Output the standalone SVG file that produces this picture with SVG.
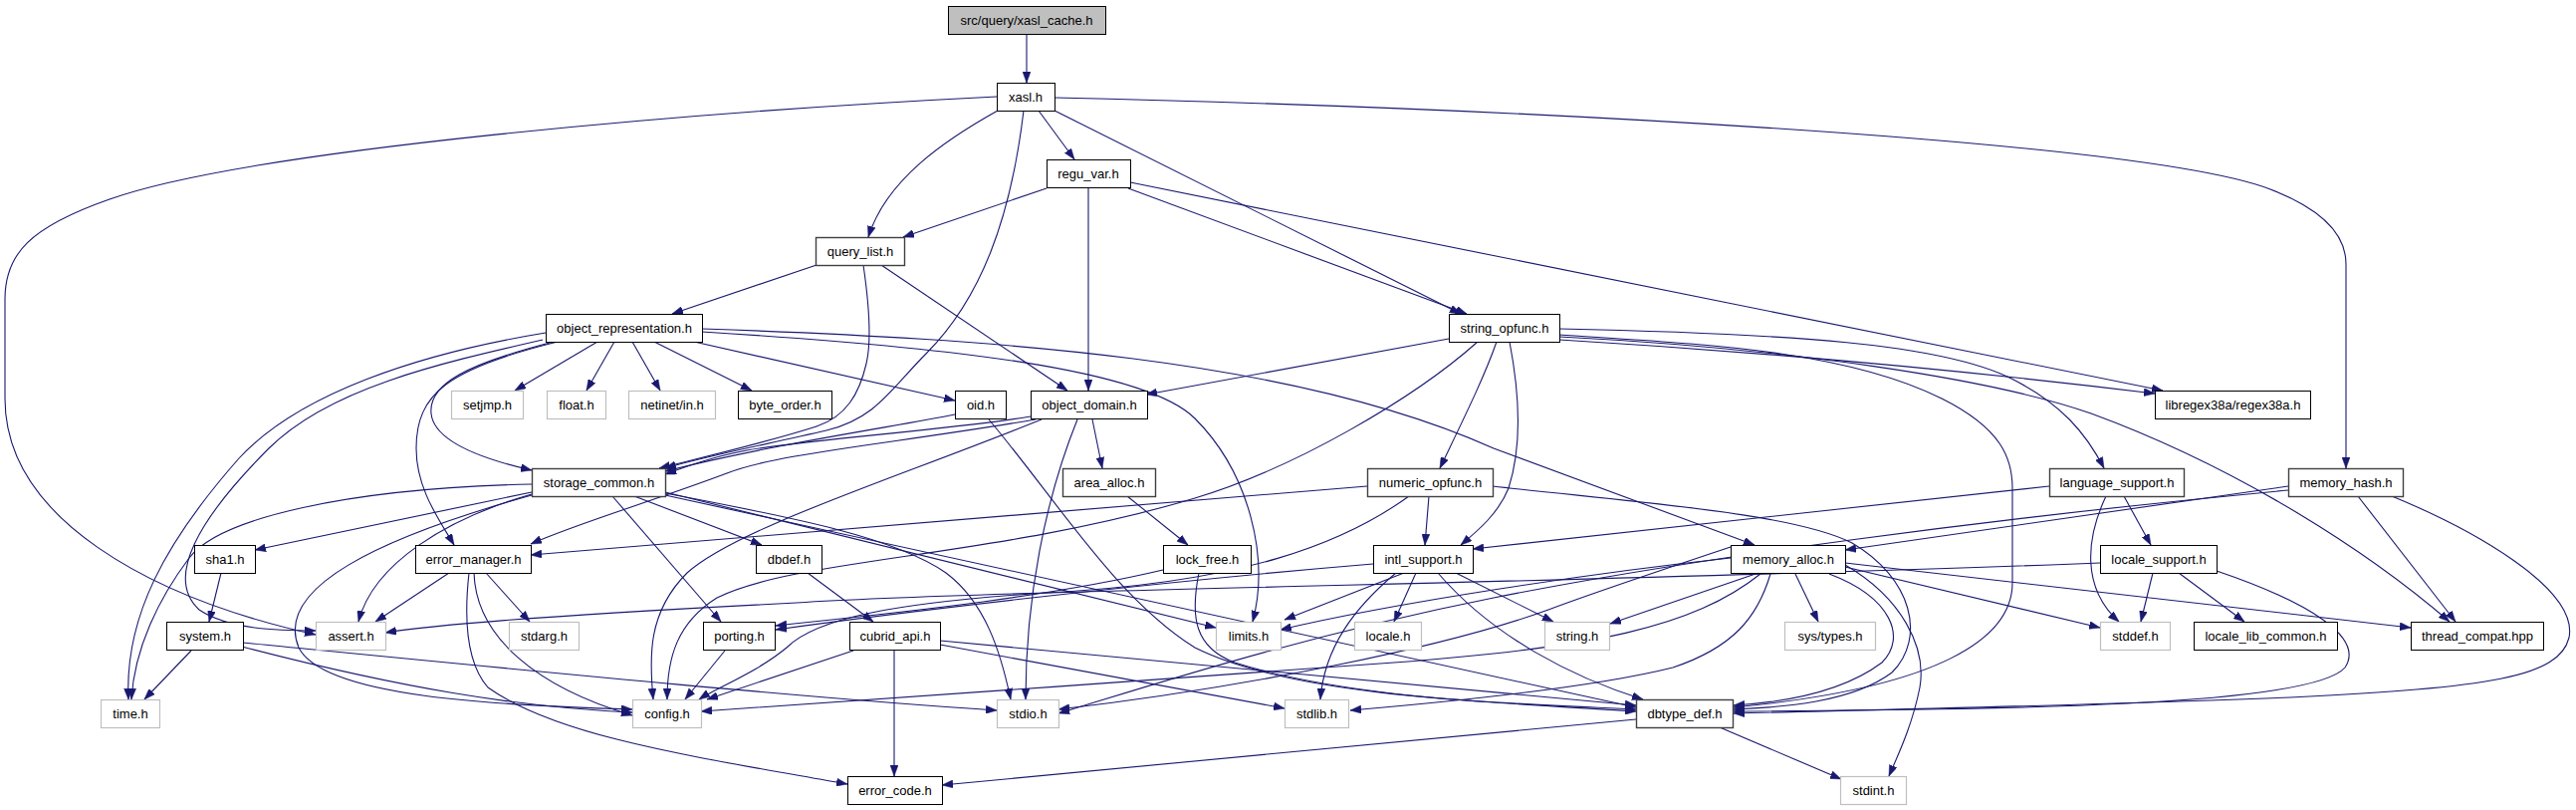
<svg xmlns="http://www.w3.org/2000/svg" width="2587" height="813" viewBox="0 0 2587 813">
<style>
.n rect{fill:#fff;stroke:#000;stroke-width:1}
.g rect{fill:#fff;stroke:#bfbfbf;stroke-width:1.2}
.d rect{fill:#fff;stroke:#404040;stroke-width:1.4}
text{font-family:"Liberation Sans",Arial,Helvetica,sans-serif;font-size:13px;text-anchor:middle;fill:#000}
#edges path{fill:none;stroke:#191970;stroke-width:1.1;marker-end:url(#a)}
</style>
<defs>
<marker id="a" markerWidth="11" markerHeight="8" refX="11" refY="4" orient="auto" markerUnits="userSpaceOnUse"><path d="M0,0 L11,4 L0,8 z" fill="#191970" stroke="#191970" stroke-width="0.5"/></marker>
</defs>
<rect width="2587" height="813" fill="#fff"/>
<g id="edges">
<path d="M1031,34 L1031,83"/>
<path d="M1001,97 C700,112 250,150 110,200 C30,228 5,255 5,300 L5,400 C5,520 150,600 317,637"/>
<path d="M1002,111 C950,140 890,180 872,238"/>
<path d="M1028,111 C1015,220 985,300 930,355 C895,390 880,420 830,432 C760,448 700,460 668,470"/>
<path d="M1043,111 L1079,160"/>
<path d="M1059,111 L1467,315"/>
<path d="M1059,98 C1500,108 2150,140 2280,190 C2340,213 2356,240 2356,265 L2356,470"/>
<path d="M1051,189 L907,238"/>
<path d="M1093,189 L1093,392"/>
<path d="M1133,189 L1473,315"/>
<path d="M1135,183 L2172,392"/>
<path d="M820,266 L675,315"/>
<path d="M867,266 C872,300 876,340 870,365 C863,395 850,418 820,428 C770,444 710,458 662,470"/>
<path d="M885,266 L1072,392"/>
<path d="M600,343 L517,392"/>
<path d="M617,343 L589,392"/>
<path d="M635,343 L663,392"/>
<path d="M657,343 L755,392"/>
<path d="M697,343 L959,402"/>
<path d="M556,343 C470,365 430,385 433,415 C436,445 490,462 534,472"/>
<path d="M560,343 C450,370 418,395 418,450 C418,490 440,520 456,547"/>
<path d="M548,334 C420,355 300,395 240,460 C165,545 125,620 129,702"/>
<path d="M545,341 C440,365 330,390 270,450 C200,520 165,580 200,612 C230,632 280,633 317,633"/>
<path d="M705,333 C950,348 1150,370 1200,420 C1255,475 1275,560 1258,624"/>
<path d="M705,330 C1000,340 1300,360 1500,450 L1762,547"/>
<path d="M959,416 C900,428 780,445 668,473"/>
<path d="M993,421 C1060,500 1120,600 1200,650 C1300,700 1500,705 1643,712"/>
<path d="M1035,418 C950,432 820,440 750,452 C710,460 690,468 668,476"/>
<path d="M1040,421 C900,445 780,455 730,475 C650,505 580,525 533,546"/>
<path d="M1046,421 C900,480 740,530 690,575 C650,615 652,660 656,702"/>
<path d="M1082,421 C1050,500 1030,600 1030,702"/>
<path d="M1097,421 L1107,470"/>
<path d="M1455,340 L1151,396"/>
<path d="M1484,343 C1420,400 1300,470 1200,500 C1000,560 800,560 720,600 C680,625 670,660 670,702"/>
<path d="M1503,343 C1490,380 1470,420 1446,470"/>
<path d="M1516,343 C1527,400 1528,450 1515,490 C1505,515 1485,532 1467,547"/>
<path d="M1566,336 C1700,345 1850,350 1950,400 C2010,430 2021,460 2021,490 L2021,585 C2021,640 1950,690 1741,710"/>
<path d="M1566,341 C1800,355 2000,375 2164,395"/>
<path d="M1566,330 C1800,335 1950,345 2020,380 C2070,405 2095,435 2113,470"/>
<path d="M1566,338 C1800,350 2000,380 2100,415 C2250,470 2380,555 2460,624"/>
<path d="M534,486 C350,490 220,520 190,560 C160,600 135,650 132,702"/>
<path d="M534,494 L256,552"/>
<path d="M534,496 C450,520 375,565 360,624"/>
<path d="M534,497 C380,540 275,590 300,650 C325,700 500,708 635,712"/>
<path d="M637,498 L765,547"/>
<path d="M615,498 L724,624"/>
<path d="M668,495 C800,520 900,540 950,575 C990,605 1005,655 1015,702"/>
<path d="M668,494 L1221,630"/>
<path d="M668,497 L1643,710"/>
<path d="M451,575 L377,624"/>
<path d="M488,575 L532,624"/>
<path d="M476,575 C478,640 540,690 635,718"/>
<path d="M471,575 C466,620 468,665 490,690 C560,740 700,760 851,787"/>
<path d="M222,575 L210,624"/>
<path d="M192,653 L145,702"/>
<path d="M243,649 C400,690 520,710 635,715"/>
<path d="M243,645 C500,670 800,700 1001,713"/>
<path d="M811,575 L877,624"/>
<path d="M857,653 L710,702"/>
<path d="M898,653 L898,779"/>
<path d="M944,643 L1643,708"/>
<path d="M944,647 L1290,711"/>
<path d="M728,653 L688,702"/>
<path d="M1132,498 L1193,547"/>
<path d="M1168,572 C1050,600 900,615 779,628"/>
<path d="M1204,575 C1195,620 1200,650 1240,665 C1350,700 1500,705 1643,714"/>
<path d="M1373,488 L533,557"/>
<path d="M1435,498 L1431,547"/>
<path d="M1415,498 C1350,545 1250,585 1050,595 C900,605 820,620 790,650 C760,675 720,690 702,702"/>
<path d="M1499,488 C1650,505 1800,515 1860,545 C1920,580 1935,640 1900,675 C1860,705 1790,710 1741,712"/>
<path d="M1410,575 L1290,622"/>
<path d="M1422,575 L1400,624"/>
<path d="M1402,575 C1360,610 1330,650 1326,702"/>
<path d="M1462,575 L1560,624"/>
<path d="M1444,575 C1500,640 1580,680 1650,702"/>
<path d="M1379,566 C1150,585 900,615 779,632"/>
<path d="M2058,488 L1479,551"/>
<path d="M2133,498 L2160,547"/>
<path d="M2115,498 C2095,540 2090,590 2128,624"/>
<path d="M2162,575 L2150,624"/>
<path d="M2188,575 L2254,624"/>
<path d="M2226,573 C2320,605 2375,640 2355,670 C2320,710 2000,712 1741,714"/>
<path d="M2109,565 C1600,585 1000,592 800,605 C600,615 450,625 387,635"/>
<path d="M1738,560 C1600,575 1400,605 1286,632"/>
<path d="M1763,576 L1617,626"/>
<path d="M1803,576 L1826,624"/>
<path d="M1853,569 L2109,630"/>
<path d="M1853,565 L2421,630"/>
<path d="M1837,576 C1900,600 1915,640 1890,665 C1850,695 1790,705 1741,708"/>
<path d="M1853,567 C1910,600 1935,650 1928,690 C1920,730 1905,760 1897,779"/>
<path d="M1738,549 C1660,575 1600,595 1555,612 C1450,650 1250,690 1063,712"/>
<path d="M1778,576 C1765,620 1740,650 1680,670 C1600,690 1450,705 1356,713"/>
<path d="M1768,576 C1700,630 1600,650 1400,665 C1200,680 900,700 704,714"/>
<path d="M2298,488 L1853,552"/>
<path d="M2298,492 C2000,520 1700,560 1500,600 C1300,640 1150,690 1063,716"/>
<path d="M2368,498 L2466,624"/>
<path d="M2402,498 C2480,530 2590,590 2580,640 C2570,680 2500,690 2300,700 C2100,708 1900,712 1741,716"/>
<path d="M1643,722 L946,788"/>
<path d="M1727,730 L1849,782"/>
</g>
<g id="n_xasl_cache" class="n"><rect x="952.5" y="6.5" width="158" height="28" style="fill:#bfbfbf"/><text x="1031" y="25">src/query/xasl_cache.h</text></g>
<g id="n_xasl" class="n"><rect x="1001.5" y="83.5" width="58" height="28"/><text x="1030" y="102">xasl.h</text></g>
<g id="n_regu_var" class="n"><rect x="1051.5" y="160.5" width="84" height="28"/><text x="1093" y="179">regu_var.h</text></g>
<g id="n_query_list" class="d"><rect x="819.5" y="238.5" width="89" height="28"/><text x="864" y="257">query_list.h</text></g>
<g id="n_object_representation" class="n"><rect x="548.5" y="315.5" width="157" height="28"/><text x="627" y="334">object_representation.h</text></g>
<g id="n_string_opfunc" class="n"><rect x="1455.5" y="315.5" width="111" height="28"/><text x="1511" y="334">string_opfunc.h</text></g>
<g id="n_setjmp" class="g"><rect x="453.5" y="392.5" width="72" height="28"/><text x="489.5" y="411">setjmp.h</text></g>
<g id="n_float" class="g"><rect x="549.5" y="392.5" width="59" height="28"/><text x="579" y="411">float.h</text></g>
<g id="n_netinet" class="g"><rect x="631.5" y="392.5" width="87" height="28"/><text x="675" y="411">netinet/in.h</text></g>
<g id="n_byte_order" class="n"><rect x="741.5" y="392.5" width="94" height="28"/><text x="788.5" y="411">byte_order.h</text></g>
<g id="n_oid" class="n"><rect x="959.5" y="392.5" width="51" height="28"/><text x="985" y="411">oid.h</text></g>
<g id="n_object_domain" class="n"><rect x="1035.5" y="392.5" width="117" height="28"/><text x="1094" y="411">object_domain.h</text></g>
<g id="n_regex38a" class="n"><rect x="2164.5" y="392.5" width="156" height="28"/><text x="2242.5" y="411">libregex38a/regex38a.h</text></g>
<g id="n_storage_common" class="d"><rect x="534.5" y="470.5" width="134" height="28"/><text x="601.5" y="489">storage_common.h</text></g>
<g id="n_area_alloc" class="d"><rect x="1067.5" y="470.5" width="93" height="28"/><text x="1114" y="489">area_alloc.h</text></g>
<g id="n_numeric_opfunc" class="d"><rect x="1373.5" y="470.5" width="126" height="28"/><text x="1436.5" y="489">numeric_opfunc.h</text></g>
<g id="n_language_support" class="d"><rect x="2058.5" y="470.5" width="135" height="28"/><text x="2126" y="489">language_support.h</text></g>
<g id="n_memory_hash" class="d"><rect x="2298.5" y="470.5" width="115" height="28"/><text x="2356" y="489">memory_hash.h</text></g>
<g id="n_sha1" class="n"><rect x="195.5" y="547.5" width="61" height="28"/><text x="226" y="566">sha1.h</text></g>
<g id="n_error_manager" class="n"><rect x="417.5" y="547.5" width="116" height="28"/><text x="475.5" y="566">error_manager.h</text></g>
<g id="n_dbdef" class="n"><rect x="759.5" y="547.5" width="66" height="28"/><text x="792.5" y="566">dbdef.h</text></g>
<g id="n_lock_free" class="n"><rect x="1168.5" y="547.5" width="88" height="28"/><text x="1212.5" y="566">lock_free.h</text></g>
<g id="n_intl_support" class="n"><rect x="1379.5" y="547.5" width="100" height="28"/><text x="1429.5" y="566">intl_support.h</text></g>
<g id="n_memory_alloc" class="n"><rect x="1738.5" y="547.5" width="115" height="28"/><text x="1796" y="566">memory_alloc.h</text></g>
<g id="n_locale_support" class="n"><rect x="2109.5" y="547.5" width="117" height="28"/><text x="2168" y="566">locale_support.h</text></g>
<g id="n_system" class="n"><rect x="167.5" y="624.5" width="77" height="28"/><text x="206" y="643">system.h</text></g>
<g id="n_assert" class="g"><rect x="317.5" y="624.5" width="70" height="28"/><text x="352.5" y="643">assert.h</text></g>
<g id="n_stdarg" class="g"><rect x="511.5" y="624.5" width="70" height="28"/><text x="546.5" y="643">stdarg.h</text></g>
<g id="n_porting" class="n"><rect x="706.5" y="624.5" width="72" height="28"/><text x="742.5" y="643">porting.h</text></g>
<g id="n_cubrid_api" class="n"><rect x="853.5" y="624.5" width="91" height="28"/><text x="899" y="643">cubrid_api.h</text></g>
<g id="n_limits" class="g"><rect x="1221.5" y="624.5" width="65" height="28"/><text x="1254" y="643">limits.h</text></g>
<g id="n_locale" class="g"><rect x="1360.5" y="624.5" width="67" height="28"/><text x="1394" y="643">locale.h</text></g>
<g id="n_string" class="g"><rect x="1551.5" y="624.5" width="65" height="28"/><text x="1584" y="643">string.h</text></g>
<g id="n_sys_types" class="g"><rect x="1792.5" y="624.5" width="91" height="28"/><text x="1838" y="643">sys/types.h</text></g>
<g id="n_stddef" class="g"><rect x="2109.5" y="624.5" width="70" height="28"/><text x="2144.5" y="643">stddef.h</text></g>
<g id="n_locale_lib_common" class="n"><rect x="2203.5" y="624.5" width="144" height="28"/><text x="2275.5" y="643">locale_lib_common.h</text></g>
<g id="n_thread_compat" class="n"><rect x="2421.5" y="624.5" width="133" height="28"/><text x="2488" y="643">thread_compat.hpp</text></g>
<g id="n_time" class="g"><rect x="101.5" y="702.5" width="59" height="28"/><text x="131" y="721">time.h</text></g>
<g id="n_config" class="g"><rect x="635.5" y="702.5" width="69" height="28"/><text x="670" y="721">config.h</text></g>
<g id="n_stdio" class="g"><rect x="1001.5" y="702.5" width="62" height="28"/><text x="1032.5" y="721">stdio.h</text></g>
<g id="n_stdlib" class="g"><rect x="1290.5" y="702.5" width="64" height="28"/><text x="1322.5" y="721">stdlib.h</text></g>
<g id="n_dbtype_def" class="d"><rect x="1643.5" y="702.5" width="97" height="28"/><text x="1692" y="721">dbtype_def.h</text></g>
<g id="n_error_code" class="n"><rect x="851.5" y="779.5" width="95" height="28"/><text x="899" y="798">error_code.h</text></g>
<g id="n_stdint" class="g"><rect x="1848.5" y="779.5" width="66" height="28"/><text x="1881.5" y="798">stdint.h</text></g>
</svg>
